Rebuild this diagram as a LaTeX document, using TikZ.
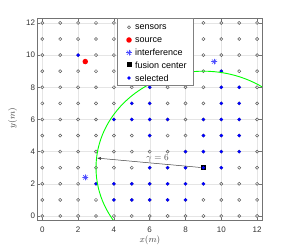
\documentclass[tikz,border=0pt]{standalone}
\usepackage{fontspec}
\setmainfont{Liberation Sans}
\usetikzlibrary{arrows.meta}
\definecolor{starblue}{rgb}{0.3,0.3,1}
\definecolor{pgreen}{rgb}{0,1,0}
\tikzset{
  gridline/.style={draw=black!10, line width=0.4pt},
  axisbox/.style={draw=black!55, line width=0.8pt},
  tickmark/.style={draw=black!55, line width=0.5pt},
  ticklabel/.style={font=\fontsize{8}{9}\selectfont, text=black!80, inner sep=0pt},
  axislabel/.style={font=\fontsize{9}{10}\selectfont, text=black!75, inner sep=0pt},
  sensor/.style={circle, draw=black!65, line width=0.5pt, inner sep=0pt, minimum size=3.1pt},
  selected/.style={circle, fill=blue, inner sep=0pt, minimum size=3.6pt},
  source/.style={circle, fill=red, inner sep=0pt, minimum size=5.5pt},
  fusion/.style={rectangle, fill=black, inner sep=0pt, minimum size=5pt},
  interf/.style={circle, inner sep=0pt, minimum size=6pt, path picture={
     \foreach \a in {0,45,90,135} \draw[starblue, line width=0.55pt] (path picture bounding box.center) ++(\a:4pt) -- ++(\a+180:8pt);}},
  rangecircle/.style={draw=pgreen, line width=0.9pt},
  arrowline/.style={draw=black!75, line width=0.5pt, -{Latex[length=4pt,width=3pt]}},
  gamlabel/.style={font=\fontsize{9}{10}\selectfont, text=black!70, inner sep=0pt},
  legendbox/.style={draw=black!50, fill=white, line width=0.5pt},
  legendtext/.style={font=\fontsize{9}{10}\selectfont, anchor=west, inner sep=0pt}
}
\begin{document}
\begin{tikzpicture}
\useasboundingbox (0,0) rectangle (291pt,249pt);
\begin{scope}[shift={(42.3pt,33pt)}, x=17.9pt, y=16.09pt]
  % grid
  \foreach \v in {0,2,...,12} {
    \draw[gridline] (\v,-0.3) -- (\v,12.3);
    \draw[gridline] (-0.3,\v) -- (12.3,\v);
  }
  % ticks
  \foreach \v in {0,2,...,12} {
    \draw[tickmark] (\v,-0.3) -- ++(0,3pt);
    \draw[tickmark] (\v,12.3) -- ++(0,-3pt);
    \draw[tickmark] (-0.3,\v) -- ++(3pt,0);
    \draw[tickmark] (12.3,\v) -- ++(-3pt,0);
    \node[ticklabel] (xt\v) at (\v,-0.85) {\v};
    \node[ticklabel, anchor=east] (yt\v) at ([xshift=-1.6pt]-0.3,\v) {\v};
  }
  % sensors
  \foreach \i in {0,...,12} \foreach \j in {0,...,12}
    \node[sensor] (s-\i-\j) at (\i,\j) {};
  % source and interference
  \node[source] (src) at (2.4,9.6) {};
  \node[interf] (int1) at (2.4,2.4) {};
  \node[interf] (int2) at (9.6,9.6) {};
  % fusion center
  \node[fusion] (fc) at (9,3) {};
  % selected
  \foreach \a/\b in {2/10, 10/9, 6/8, 10/8, 11/8, 5/7, 6/7, 10/7, 11/7,
                  4/6, 5/6, 6/6, 7/6, 9/6, 10/6, 11/6, 6/5, 9/5, 10/5, 11/5,
                  8/4, 9/4, 10/4, 11/4, 6/3, 7/3, 8/3, 9/3, 10/3,
                  3/2, 4/2, 5/2, 6/2, 7/2, 8/2, 9/2, 4/1, 5/1, 6/1, 7/1, 8/1}
    \node[selected] (sel-\a-\b) at (\a,\b) {};
  % range circle
  \begin{scope}
    \clip (-0.3,-0.3) rectangle (12.3,12.3);
    \draw[rangecircle] (9,3) circle [radius=6];
  \end{scope}
  % arrow
  \coordinate (tip) at (3.05,3.6);
  \draw[arrowline] (fc) -- (tip);
  \node[gamlabel] (gam) at (6.44,3.59) {$\gamma = 6$};
  % axes box
  \draw[axisbox] (-0.3,-0.3) rectangle (12.3,12.3);
\end{scope}
% axis labels
\node[axislabel] (xlab) at (150pt,9pt) {$x(m)$};
\node[axislabel, rotate=90] (ylab) at (12.5pt,131pt) {$y(m)$};
% legend
\draw[legendbox] (117pt,164pt) rectangle (193pt,230.5pt);
\node[sensor] (l1m) at (129pt,221.7pt) {};
\node[source] (l2m) at (129pt,209pt) {};
\node[interf] (l3m) at (129pt,196.3pt) {};
\node[fusion] (l4m) at (129pt,184pt) {};
\node[selected] (l5m) at (129pt,171pt) {};
\node[legendtext] (l1t) at (135pt,221.7pt) {sensors};
\node[legendtext] (l2t) at (135pt,209pt) {source};
\node[legendtext] (l3t) at (135pt,196.3pt) {interference};
\node[legendtext] (l4t) at (135pt,184pt) {fusion center};
\node[legendtext] (l5t) at (135pt,171pt) {selected};
\end{tikzpicture}
\end{document}
